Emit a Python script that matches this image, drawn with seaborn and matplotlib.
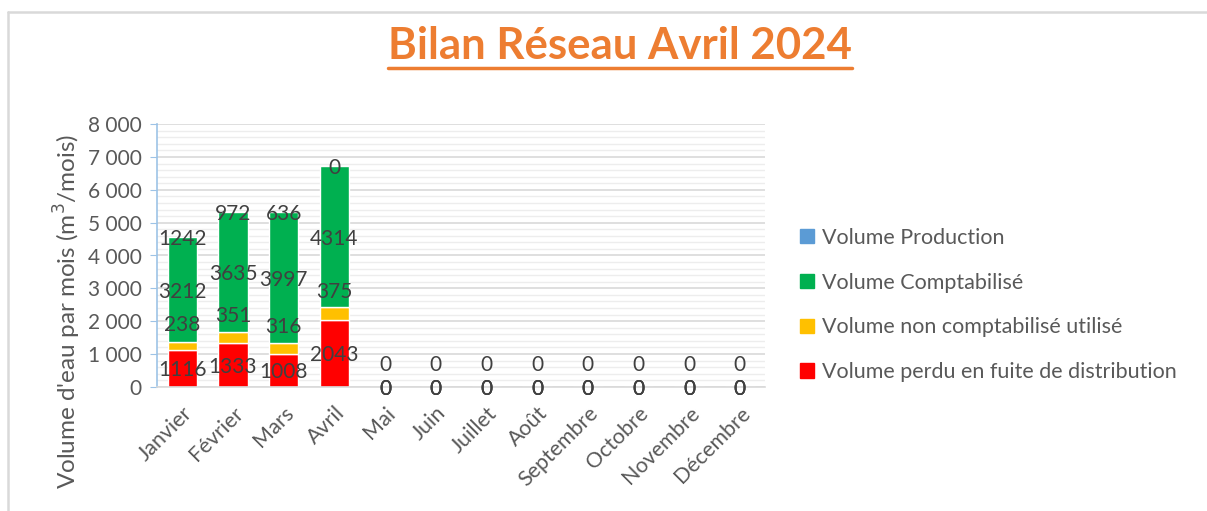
import numpy as np
import pandas as pd
import matplotlib
matplotlib.use("Agg")
import matplotlib.pyplot as plt
from matplotlib.patches import Patch
from matplotlib.lines import Line2D
from matplotlib.ticker import MultipleLocator, FuncFormatter
import seaborn as sns

# data
months = ["Janvier", "Février", "Mars", "Avril", "Mai", "Juin", "Juillet",
          "Août", "Septembre", "Octobre", "Novembre", "Décembre"]
perdu = [1116, 1333, 1008, 2043, 0, 0, 0, 0, 0, 0, 0, 0]
non_compta = [238, 351, 316, 375, 0, 0, 0, 0, 0, 0, 0, 0]
compta = [3212, 3635, 3997, 4314, 0, 0, 0, 0, 0, 0, 0, 0]
production = [1242, 972, 636, 0, 0, 0, 0, 0, 0, 0, 0, 0]

series_names = ["Volume Production", "Volume Comptabilisé",
                "Volume non comptabilisé utilisé", "Volume perdu en fuite de distribution"]
colors = {"prod": "#5B9BD5", "compta": "#00B050", "non": "#FFC000", "perdu": "#FF0000"}

df = pd.DataFrame({"mois": months, "perdu": perdu, "non": non_compta,
                   "compta": compta, "prod": production})
df["b_non"] = df["perdu"]
df["b_compta"] = df["perdu"] + df["non"]
df["top"] = df["b_compta"] + df["compta"]

sns.set_style("white")
plt.rcParams["font.family"] = ["Lato", "DejaVu Sans"]

fig = plt.figure(figsize=(12.07, 5.11), dpi=100)
ax = fig.add_axes([0.130, 0.243, 0.504, 0.514])

bw = 0.58
sns.barplot(data=df, x="mois", y="perdu", color=colors["perdu"], saturation=1,
            width=bw, errorbar=None, ax=ax, order=months)
sns.barplot(data=df, x="mois", y="non", color=colors["non"], saturation=1,
            width=bw, errorbar=None, ax=ax, order=months, bottom=df["b_non"])
sns.barplot(data=df, x="mois", y="compta", color=colors["compta"], saturation=1,
            width=bw, errorbar=None, ax=ax, order=months, bottom=df["b_compta"])

# data labels
lab_kw = dict(ha="center", va="center", fontsize=15, color="#404040")
for i, r in df.iterrows():
    ax.text(i, r["perdu"] / 2 - 60, f"{r['perdu']}", **lab_kw)
    ax.text(i, r["b_non"] + r["non"] / 2 + 650, f"{r['non']}", **lab_kw)
    ax.text(i, r["b_compta"] + r["compta"] / 2 - 70, f"{r['compta']}", **lab_kw)
    ax.text(i, r["top"] - 60, f"{r['prod']}", **lab_kw)

ax.set_xlim(-0.5, len(months) - 0.5)
ax.set_ylim(0, 8000)
ax.yaxis.set_major_locator(MultipleLocator(1000))
ax.yaxis.set_minor_locator(MultipleLocator(200))
ax.yaxis.set_major_formatter(FuncFormatter(lambda v, p: f"{int(v):,}".replace(",", " ")))
ax.grid(which="major", axis="y", color="#D9D9D9", lw=1.2)
ax.grid(which="minor", axis="y", color="#EDEDED", lw=1.0)
ax.set_axisbelow(True)

for s in ["top", "right"]:
    ax.spines[s].set_visible(False)
ax.spines["left"].set_color("#9DC3E6")
ax.spines["left"].set_linewidth(1.2)
ax.spines["bottom"].set_color("#D9D9D9")
ax.spines["bottom"].set_linewidth(1.2)
ax.tick_params(axis="y", which="major", left=True, length=5, color="#9DC3E6",
               labelsize=15, labelcolor="#595959", pad=6)
ax.tick_params(axis="y", which="minor", left=False)
ax.tick_params(axis="x", bottom=False, labelsize=15.5, labelcolor="#595959", pad=8)
for lbl in ax.get_xticklabels():
    lbl.set_rotation(45)
    lbl.set_ha("right")
    lbl.set_rotation_mode("anchor")
ax.set_xlabel("")
ax.set_ylabel("")

fig.text(0.056, 1 - 312 / 511, "Volume d'eau par mois (m$^3$/mois)", rotation=90,
         ha="center", va="center", fontsize=17.5, color="#595959")

handles = [Patch(color=colors[k]) for k in ["prod", "compta", "non", "perdu"]]
fig.legend(handles, series_names, loc="center left", bbox_to_anchor=(0.647, 1 - 305 / 511),
           frameon=False, fontsize=15.5, labelcolor="#595959", handlelength=0.65,
           handleheight=0.65, handletextpad=0.35, labelspacing=1.15)

title = fig.text(0.514, 1 - 46 / 511, "Bilan Réseau Avril 2024", ha="center", va="center",
                 fontsize=31.5, fontweight="bold", color="#ED7D31")
fig.canvas.draw()
bb = title.get_window_extent().transformed(fig.transFigure.inverted())
fig.add_artist(Line2D([bb.x0, bb.x1], [1 - 68 / 511, 1 - 68 / 511],
                      color="#ED7D31", lw=2.5, transform=fig.transFigure))

# chart frame (top and left edges visible in the screenshot)
fig.add_artist(Line2D([8 / 1207, 1.0], [1 - 12 / 511, 1 - 12 / 511],
                      color="#D9D9D9", lw=1.8, transform=fig.transFigure))
fig.add_artist(Line2D([8 / 1207, 8 / 1207], [0, 1 - 12 / 511],
                      color="#D9D9D9", lw=1.8, transform=fig.transFigure))

fig.savefig("out.png", dpi=100)
